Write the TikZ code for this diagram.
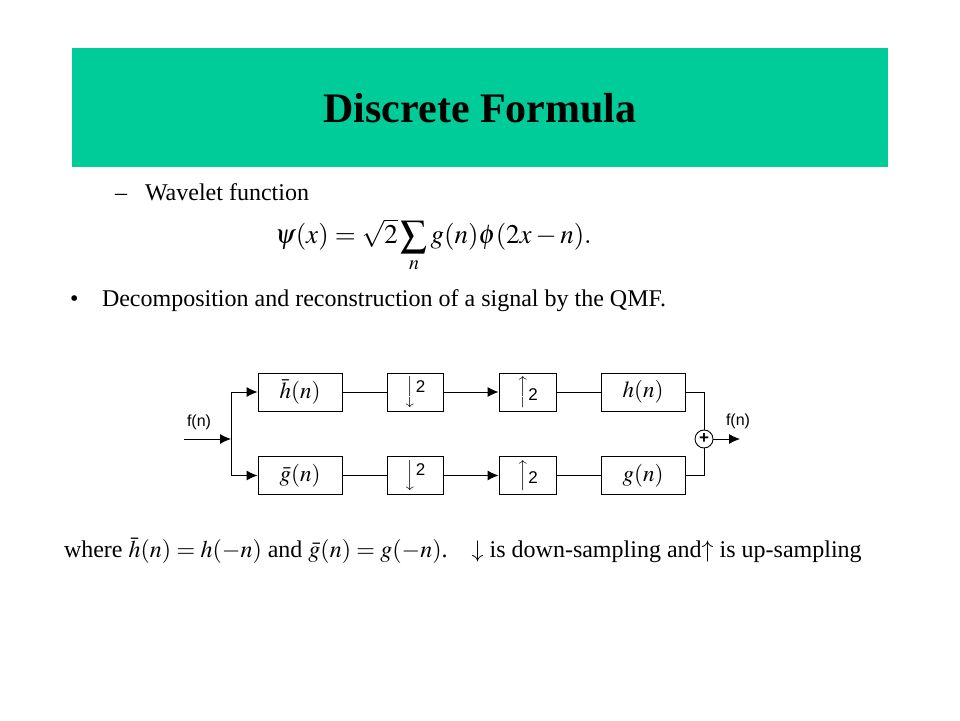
\documentclass[tikz,border=0pt]{standalone}
\usepackage{amsmath}
\usepackage{mathptmx}
\usepackage{fontspec}
\setmainfont{Liberation Serif}
\newfontfamily\arialfont{Liberation Sans}
\usetikzlibrary{arrows.meta}

\tikzset{
  slidetext/.style={text=drawColor,inner sep=0pt,outer sep=0pt,font=\fontsize{24}{28}\selectfont},
  sig/.style={draw=drawColor,line width=0.9pt},
  sigarrow/.style={sig,-{Latex[length=11pt,width=10pt]}},
  filterbox/.style={draw=drawColor,line width=0.9pt,minimum width=84pt,minimum height=38pt,inner sep=0pt,font=\fontsize{23}{26}\selectfont},
  samplebox/.style={filterbox,minimum width=56pt,font=\arialfont\fontsize{17}{22}\selectfont},
  sumnode/.style={circle,draw=drawColor,line width=0.9pt,minimum size=18pt,inner sep=0pt,font=\arialfont\bfseries\fontsize{17}{17}\selectfont},
  siglabel/.style={text=drawColor,inner sep=0pt,font=\arialfont\fontsize{16}{18}\selectfont}
}
\newcommand{\bigsum}{\mathop{\vcenter{\hbox{\scalebox{1.4}{$\sum$}}}}\limits}

\begin{document}
\begin{tikzpicture}[x=1pt,y=1pt]
\definecolor{fillColor}{RGB}{255,255,255}
\definecolor{drawColor}{RGB}{0,0,0}
\definecolor{bannerColor}{RGB}{0,204,153}
\path[use as bounding box,fill=fillColor] (0,0) rectangle (960,720);

% title banner
\path[fill=bannerColor] ( 72,553) rectangle (888,672);
\node[slidetext,anchor=base,font=\bfseries\fontsize{42}{48}\selectfont] (title) at (480,597) {Discrete Formula};

% text lines
\node[slidetext,anchor=base west] (dash) at (115,519) {--};
\node[slidetext,anchor=base west] (wavelet) at (145,519) {Wavelet function};
\node[slidetext,anchor=base west,font=\fontsize{27}{30}\selectfont] (psi) at (275,476)
  {$\psi(x)=\sqrt{2}\bigsum_{n} g(n)\phi(2x-n).$};
\node[slidetext,anchor=base west] (bullet) at ( 70,413) {\textbullet};
\node[slidetext,anchor=base west] (qmf) at (102,413) {Decomposition and reconstruction of a signal by the QMF.};

% filter bank
\coordinate (in) at (184,281);
\coordinate (split) at (231,281);
\node[filterbox] (hbar) at (300,328)   {$\bar{h}(n)$};
\node[samplebox] (dn1)  at (415,328)   {\raisebox{-4pt}{$\Big\downarrow$}2};
\node[samplebox,minimum width=57pt] (up1) at (527.5,328) {\raisebox{4pt}{$\Big\uparrow$}2};
\node[filterbox] (h)    at (643,328)   {$h(n)$};
\node[filterbox] (gbar) at (300,244.5) {$\bar{g}(n)$};
\node[samplebox] (dn2)  at (415,244.5) {\raisebox{-4pt}{$\Big\downarrow$}2};
\node[samplebox,minimum width=57pt] (up2) at (527.5,244.5) {\raisebox{4pt}{$\Big\uparrow$}2};
\node[filterbox] (g)    at (643,244.5) {$g(n)$};
\node[sumnode] (sum) at (704,281) {+};
\coordinate (out) at (740,281);

\node[siglabel] (fin)  at (199,298) {f(n)};
\node[siglabel] (fout) at (738,299) {f(n)};

\path[sigarrow] (in) -- (split);
\path[sigarrow] (split) |- (hbar.west);
\path[sigarrow] (split) |- (gbar.west);
\path[sig] (hbar) -- (dn1);
\path[sig] (gbar) -- (dn2);
\path[sigarrow] (dn1) -- (up1);
\path[sigarrow] (dn2) -- (up2);
\path[sig] (up1) -- (h);
\path[sig] (up2) -- (g);
\path[sig] (h.east) -| (sum);
\path[sig] (g.east) -| (sum);
\path[sigarrow] (sum) -- (out);

% definitions
\node[slidetext,anchor=base west] (where) at ( 64,162)
  {where $\bar{h}(n)=h(-n)$ and $\bar{g}(n)=g(-n)$.\quad$\downarrow$ is down-sampling and$\uparrow$ is up-sampling};
\end{tikzpicture}
\end{document}
